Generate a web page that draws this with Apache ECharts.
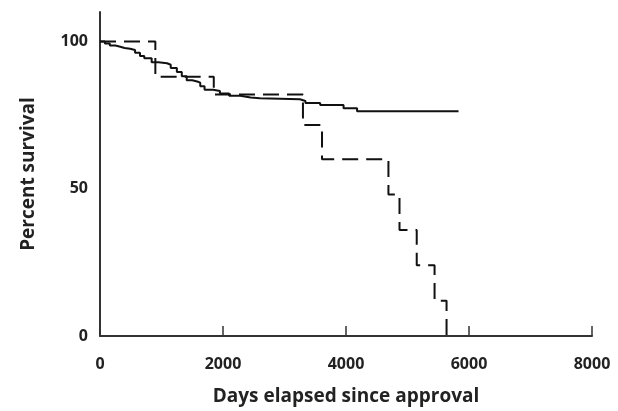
<!DOCTYPE html>
<html>
<head>
<meta charset="utf-8">
<script src="https://cdn.jsdelivr.net/npm/echarts@6/dist/echarts.min.js"></script>
<style>
  html, body { margin: 0; padding: 0; background: #fff; }
  #chart { width: 618px; height: 411px; }
</style>
</head>
<body>
<div id="chart"></div>
<script>
// solid curve (days, percent)
const solidDays = [0, 80, 160, 250, 330, 400, 490, 570, 650, 720, 840, 950, 1090, 1150, 1250, 1330, 1410, 1500, 1580, 1630, 1700, 1840, 1950, 2100, 2280, 2450, 2600, 3250, 3340, 3580, 3960, 4180, 5830];
const solidPct = [100, 99.3, 98.6, 98.2, 97.8, 97.5, 97.1, 96.2, 95.1, 94.3, 92.9, 92.6, 92.1, 91.0, 89.6, 88.2, 86.8, 86.4, 86.0, 84.8, 83.6, 83.2, 82.3, 81.6, 81.0, 80.7, 80.4, 79.8, 79.1, 78.4, 77.3, 76.3, 76.3];
// dashed curve
const dashDays = [0, 900, 1850, 3300, 3610, 4690, 4870, 5150, 5440, 5635];
const dashPct = [100, 88, 82, 71.6, 60, 48, 36, 24, 12, 0];
const xTicks = [0, 2000, 4000, 6000, 8000];
const yTicks = [0, 50, 100];

const font = "'Open Sans', Lato, sans-serif";
const axisColor = "#333";

const chart = echarts.init(document.getElementById("chart"));
chart.setOption({
  animation: false,
  grid: { left: 100, right: 26, top: 12, bottom: 73 },
  xAxis: {
    type: "value",
    min: xTicks[0],
    max: xTicks[xTicks.length - 1],
    interval: 2000,
    name: "Days elapsed since approval",
    nameLocation: "middle",
    nameGap: 51,
    nameTextStyle: { fontFamily: font, fontWeight: "bold", fontSize: 19, color: "#222" },
    axisLine: { lineStyle: { color: axisColor, width: 2 } },
    axisTick: { inside: true, length: 10, lineStyle: { color: axisColor, width: 1.5 } },
    axisLabel: {
      fontFamily: font, fontWeight: "bold", fontSize: 16, color: "#222", margin: 20,
      formatter: (v) => String(v),
    },
    splitLine: { show: false },
  },
  yAxis: {
    type: "value",
    min: 0,
    max: 110,
    interval: 50,
    name: "Percent survival",
    nameLocation: "middle",
    nameGap: 62,
    nameTextStyle: { fontFamily: font, fontWeight: "bold", fontSize: 19, color: "#222" },
    axisLine: { show: true, lineStyle: { color: axisColor, width: 2 } },
    axisTick: { show: false },
    axisLabel: {
      fontFamily: font, fontWeight: "bold", fontSize: 16, color: "#222", margin: 12,
      formatter: (v) => (yTicks.includes(v) ? String(v) : ""),
    },
    splitLine: { show: false },
  },
  series: [
    {
      type: "line",
      step: "end",
      symbol: "none",
      data: solidDays.map((d, i) => [d, solidPct[i]]),
      lineStyle: { color: "#111", width: 2 },
    },
    {
      type: "line",
      step: "end",
      symbol: "none",
      data: dashDays.map((d, i) => [d, dashPct[i]]),
      lineStyle: { color: "#111", width: 2, type: [16, 8] },
    },
  ],
});
</script>
</body>
</html>
